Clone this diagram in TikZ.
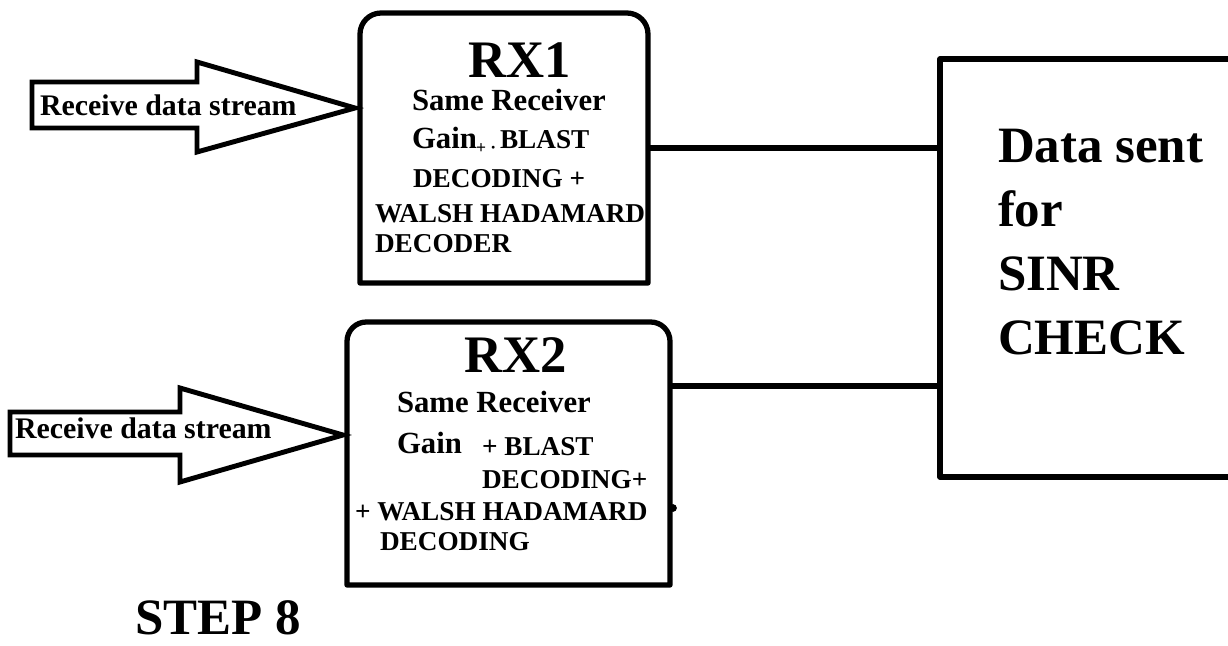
\documentclass[tikz,border=0pt]{standalone}
\usepackage{fontspec}
\setmainfont{Liberation Serif}
\tikzset{empty/.style={draw=none, fill=none, minimum size=0mm, inner sep=0mm, outer sep=0mm}}
\tikzset{frame/.style={line width=3pt, line join=round}}
\tikzset{wire/.style={line width=3pt}}
\tikzset{blockarrow/.style={line width=2.8pt, line join=miter, fill=white}}
\tikzset{txt/.style={empty, anchor=base west, font=\bfseries\fontsize{15.5}{18}\selectfont}}
\tikzset{bigtxt/.style={empty, anchor=base west, font=\bfseries\fontsize{17.5}{20}\selectfont}}
\tikzset{arrtxt/.style={empty, anchor=base west, font=\bfseries\fontsize{17}{20}\selectfont}}
\tikzset{rxtitle/.style={empty, anchor=base, font=\bfseries\fontsize{30}{34}\selectfont}}
\tikzset{sinrtxt/.style={empty, anchor=base west, font=\bfseries\fontsize{29}{34}\selectfont}}

\begin{document}
\begin{tikzpicture}[x=0.2mm, y=-0.2mm]
  \useasboundingbox (0,0) rectangle (1228,646);

  \node (rx1) [empty, minimum width=57.6mm, minimum height=54mm] at (504,148) {};
  \node (rx2) [empty, minimum width=64.6mm, minimum height=52.6mm] at (508.5,453.5) {};
  \node (check) [empty, minimum width=58.4mm, minimum height=83.6mm] at (1086,268) {};

  \draw[frame] (rx1.south west) -- ([yshift=-12pt]rx1.north west)
    arc[start angle=180, end angle=90, radius=12pt] -- ([xshift=-12pt]rx1.north east)
    arc[start angle=90, end angle=0, radius=12pt] -- (rx1.south east) -- cycle;
  \draw[frame] (rx2.south west) -- ([yshift=-11pt]rx2.north west)
    arc[start angle=180, end angle=90, radius=11pt] -- ([xshift=-11pt]rx2.north east)
    arc[start angle=90, end angle=0, radius=11pt] -- (rx2.south east) -- cycle;
  \draw[frame] (check.north east) -- (check.north west) -- (check.south west) -- (check.south east);
  \fill (673,508) circle (2.2pt);

  % inputs
  \draw[blockarrow] (32,82) -- (197,82) -- (197,62) -- (355,108) -- (197,152) -- (197,128) -- (32,128) -- cycle;
  \draw[blockarrow] (10,412) -- (180,412) -- (180,388) -- (343,435) -- (180,482) -- (180,455) -- (10,455) -- cycle;
  \node (in1) [arrtxt] at (40,115) {Receive data stream};
  \node (in2) [arrtxt] at (15,438) {Receive data stream};

  % outputs
  \coordinate (rx2out) at (670,386);
  \draw[wire] (rx1.east) -- (rx1.east -| check.west);
  \draw[wire] (rx2out) -- (rx2out -| check.west);

  \node (rx1t) [rxtitle] at (520,77) {RX1};
  \node (rx1a) [bigtxt] at (412,110) {Same Receiver};
  \node (rx1b) [bigtxt] at (412,148) {Gain};
  \node (rx1c) [txt, font=\bfseries\fontsize{10}{12}\selectfont] at (476,153) {+ ·};
  \node (rx1d) [txt] at (500,148) {BLAST};
  \node (rx1e) [txt] at (413,187) {DECODING +};
  \node (rx1f) [txt] at (375,222) {WALSH HADAMARD};
  \node (rx1g) [txt] at (375,252) {DECODER};

  \node (rx2t) [rxtitle] at (516,372) {RX2};
  \node (rx2a) [bigtxt] at (397,412) {Same Receiver};
  \node (rx2b) [bigtxt] at (397,453) {Gain};
  \node (rx2c) [txt] at (482,455) {+ BLAST};
  \node (rx2d) [txt] at (482,488) {DECODING+};
  \node (rx2e) [txt] at (355,520) {+ WALSH HADAMARD};
  \node (rx2f) [txt] at (380,550) {DECODING};

  \node (chk1) [sinrtxt] at (998,162) {Data sent};
  \node (chk2) [sinrtxt] at (998,226) {for};
  \node (chk3) [sinrtxt] at (998,290) {SINR};
  \node (chk4) [sinrtxt] at (998,354) {CHECK};

  \node (step) [sinrtxt] at (135,634) {STEP 8};
\end{tikzpicture}
\end{document}
